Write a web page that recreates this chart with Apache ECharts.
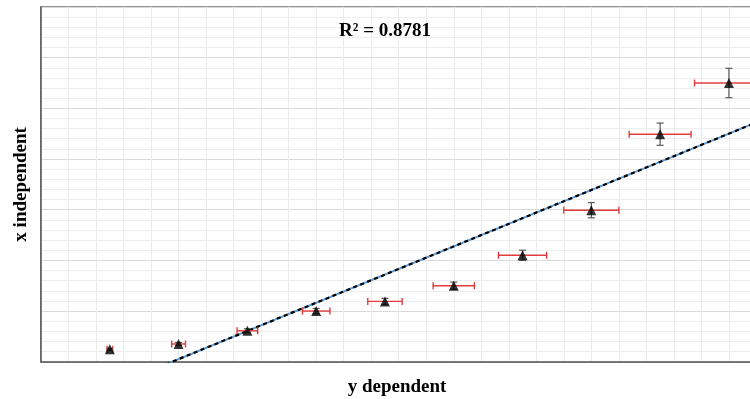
<!DOCTYPE html>
<html>
<head>
<meta charset="utf-8">
<script src="https://cdn.jsdelivr.net/npm/echarts@6/dist/echarts.min.js"></script>
<style>
html,body{margin:0;padding:0;background:#fff;}
#chart{width:750px;height:399px;}
</style>
</head>
<body>
<div id="chart"></div>
<script>
// ---- data ----
const xValues = [1, 2, 3, 4, 5, 6, 7, 8, 9, 10];
const yValues = [0.245, 0.35, 0.61, 1.0, 1.19, 1.50, 2.10, 2.99, 4.49, 5.50];
const xErrors = [0.04, 0.10, 0.15, 0.20, 0.25, 0.30, 0.35, 0.40, 0.45, 0.50];
const yErrors = [0.02, 0.03, 0.04, 0.05, 0.06, 0.07, 0.10, 0.15, 0.22, 0.29];
const rSquaredLabel = 'R² = 0.8781';
const xAxisTitle = 'y dependent';
const yAxisTitle = 'x independent';
const xMin = 0, xMax = 10.35, xStep = 0.4;
const yMin = 0, yMax = 7, yStep = 1;

// linear least-squares trendline from the data
const n = xValues.length;
const mx = xValues.reduce((a, b) => a + b, 0) / n;
const my = yValues.reduce((a, b) => a + b, 0) / n;
let sxy = 0, sxx = 0;
for (let i = 0; i < n; i++) { sxy += (xValues[i] - mx) * (yValues[i] - my); sxx += (xValues[i] - mx) ** 2; }
const slope = sxy / sxx, intercept = my - slope * mx;
const trend = [[xMin, intercept + slope * xMin], [xMax, intercept + slope * xMax]];

const points = xValues.map((x, i) => [x, yValues[i]]);
const errData = xValues.map((x, i) => [x, yValues[i], xErrors[i], yErrors[i]]);

const chart = echarts.init(document.getElementById('chart'), null, {renderer: 'canvas'});
const serif = '"Liberation Serif", "Times New Roman", serif';
const cap = 3.5;

chart.setOption({
  animation: false,
  backgroundColor: '#ffffff',
  grid: {left: 41, right: -3, top: 7, bottom: 37.3, containLabel: false, outerBoundsMode: 'none',
         show: true, borderColor: '#707070', borderWidth: 1.5, backgroundColor: 'transparent'},
  graphic: [{
    type: 'text', left: 339, top: 22, z: 100,
    style: {text: rSquaredLabel, font: 'bold 19px ' + serif, fill: '#000'}
  }],
  xAxis: {
    type: 'value', min: xMin, max: xMax, interval: xStep,
    name: xAxisTitle, nameLocation: 'middle', nameGap: 16,
    nameTextStyle: {fontFamily: serif, fontWeight: 'bold', fontSize: 19, color: '#000'},
    axisLine: {show: true, lineStyle: {color: '#595959', width: 1.5}},
    axisTick: {show: false}, axisLabel: {show: false},
    splitLine: {show: true, lineStyle: {color: '#ececec', width: 1}}
  },
  yAxis: {
    type: 'value', min: yMin, max: yMax, interval: yStep,
    name: yAxisTitle, nameLocation: 'middle', nameGap: 10,
    nameTextStyle: {fontFamily: serif, fontWeight: 'bold', fontSize: 19, color: '#000'},
    axisLine: {show: true, lineStyle: {color: '#595959', width: 1.5}},
    axisTick: {show: false}, axisLabel: {show: false},
    splitLine: {show: true, lineStyle: {color: '#d9d9d9', width: 1.2}},
    minorTick: {show: false, splitNumber: 5},
    minorSplitLine: {show: true, lineStyle: {color: '#eeeeee', width: 1}}
  },
  series: [
    {
      type: 'line', data: trend, showSymbol: false, symbol: 'none', clip: true, z: 3,
      lineStyle: {color: '#5b9bd5', width: 2}
    },
    {
      type: 'line', data: trend, showSymbol: false, symbol: 'none', clip: true, z: 4,
      lineStyle: {color: '#000000', width: 2.2, type: [4, 3.5]}
    },
    {
      type: 'custom', data: errData, z: 5, clip: false,
      renderItem: function (params, api) {
        const x = api.value(0), y = api.value(1), ex = api.value(2), ey = api.value(3);
        const c = api.coord([x, y]);
        const l = api.coord([x - ex, y]), r = api.coord([x + ex, y]);
        const t = api.coord([x, y + ey]), b = api.coord([x, y - ey]);
        const red = {stroke: '#e03c3c', lineWidth: 1.4};
        const gray = {stroke: '#595959', lineWidth: 1.2};
        return {type: 'group', children: [
          {type: 'line', shape: {x1: l[0], y1: c[1], x2: r[0], y2: c[1]}, style: red},
          {type: 'line', shape: {x1: l[0], y1: c[1] - cap, x2: l[0], y2: c[1] + cap}, style: red},
          {type: 'line', shape: {x1: r[0], y1: c[1] - cap, x2: r[0], y2: c[1] + cap}, style: red},
          {type: 'line', shape: {x1: c[0], y1: t[1], x2: c[0], y2: b[1]}, style: gray},
          {type: 'line', shape: {x1: c[0] - cap, y1: t[1], x2: c[0] + cap, y2: t[1]}, style: gray},
          {type: 'line', shape: {x1: c[0] - cap, y1: b[1], x2: c[0] + cap, y2: b[1]}, style: gray}
        ]};
      }
    },
    {
      type: 'scatter', data: points, symbol: 'triangle', symbolSize: 10, z: 6,
      itemStyle: {color: '#000000'}
    }
  ]
});
</script>
</body>
</html>
